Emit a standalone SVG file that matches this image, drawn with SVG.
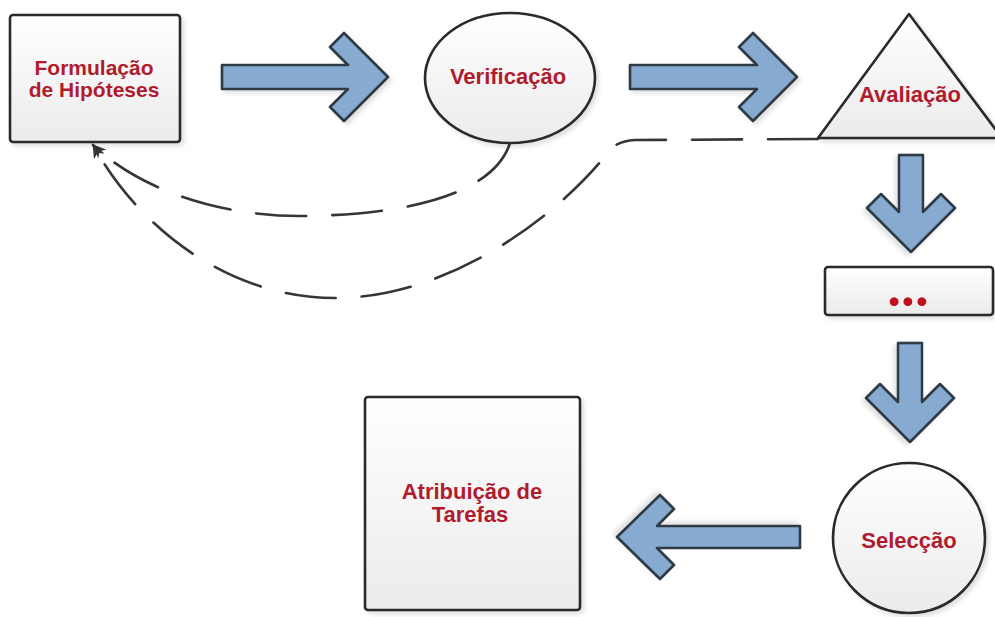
<svg xmlns="http://www.w3.org/2000/svg" width="995" height="617" viewBox="0 0 995 617">
  <defs>
    <linearGradient id="nodeFill" x1="0" y1="0" x2="0" y2="1">
      <stop offset="0" stop-color="#ffffff"/>
      <stop offset="1" stop-color="#ebebeb"/>
    </linearGradient>
    <filter id="softShadow" x="-10%" y="-10%" width="125%" height="125%">
      <feDropShadow dx="3" dy="3" stdDeviation="2" flood-color="#000000" flood-opacity="0.12"/>
    </filter>
    <marker id="arrowHead" markerUnits="userSpaceOnUse" markerWidth="16" markerHeight="12" refX="13" refY="6" orient="auto">
      <path d="M0,0 L14,6 L0,12 L4,6 Z" fill="#333333"/>
    </marker>
    <style>
      .node { fill: url(#nodeFill); stroke: #2a2a2a; stroke-width: 2.6; stroke-linejoin: round; filter: url(#softShadow); }
      .label { font-family: "Liberation Sans", Arial, sans-serif; font-weight: bold; font-size: 22px; fill: #B01C2E; text-anchor: middle; }
      .label.small { font-size: 21px; }
      .label.dots { font-family: Lato, "Liberation Sans", sans-serif; font-size: 58px; fill: #C01020; }
      .block { fill: #87AAD1; stroke: #2E3A44; stroke-width: 2.6; stroke-linejoin: round; filter: url(#softShadow); }
      .dash { fill: none; stroke: #363636; stroke-width: 2.6; stroke-dasharray: 50 26; stroke-linecap: round; marker-end: url(#arrowHead); }
    </style>
  </defs>

  <rect width="995" height="617" fill="#ffffff"/>

  <!-- block arrows and dashed feedback lines -->
  <g id="connectors">
    <!-- tip at local origin, shaft extends to negative x -->
    <path class="block" transform="translate(388,77)" d="M0,0 L-44,-44 L-58,-30 L-40,-12 L-166,-12 L-166,12 L-40,12 L-58,30 L-44,44 Z"/>
    <path class="block" transform="translate(797,77)" d="M0,0 L-44,-44 L-58,-30 L-40,-12 L-167,-12 L-167,12 L-40,12 L-58,30 L-44,44 Z"/>
    <path class="block" transform="translate(911,252) rotate(90)" d="M0,0 L-44,-44 L-58,-30 L-40,-12 L-97,-12 L-97,12 L-40,12 L-58,30 L-44,44 Z"/>
    <path class="block" transform="translate(910,442) rotate(90)" d="M0,0 L-44,-44 L-58,-30 L-40,-12 L-99,-12 L-99,12 L-40,12 L-58,30 L-44,44 Z"/>
    <path class="block" transform="translate(617,537) rotate(180)" d="M0,0 L-43,-42 L-57,-28 L-40,-11 L-183,-11 L-183,11 L-40,11 L-57,28 L-43,42 Z"/>

    <path class="dash" d="M510,143 C495,190 420,215 300,216 C220,216 140,190 93,145"/>
    <path class="dash" d="M818,139 L635,140 Q618,141 610,150 C560,215 450,298 335,298 C230,298 140,230 93,145"/>
  </g>

  <g id="formulacao">
    <rect class="node" x="10" y="15" width="170" height="127" rx="3"/>
    <text class="label small" x="94" y="75">Formulação</text>
    <text class="label small" x="94" y="97">de Hipóteses</text>
  </g>

  <g id="verificacao">
    <ellipse class="node" cx="510" cy="78" rx="85" ry="65"/>
    <text class="label" x="508" y="84">Verificação</text>
  </g>

  <g id="avaliacao">
    <polygon class="node" points="909,14 1002,138 818,138"/>
    <text class="label" x="910" y="102">Avaliação</text>
  </g>

  <g id="etapas">
    <rect class="node" x="825" y="267" width="168" height="48" rx="3"/>
    <text class="label dots" x="908" y="306">...</text>
  </g>

  <g id="seleccao">
    <ellipse class="node" cx="909" cy="538" rx="76" ry="75"/>
    <text class="label" x="909" y="548">Selecção</text>
  </g>

  <g id="atribuicao">
    <rect class="node" x="365" y="397" width="215" height="213" rx="3"/>
    <text class="label" x="472" y="499">Atribuição de</text>
    <text class="label" x="470" y="522">Tarefas</text>
  </g>
</svg>
